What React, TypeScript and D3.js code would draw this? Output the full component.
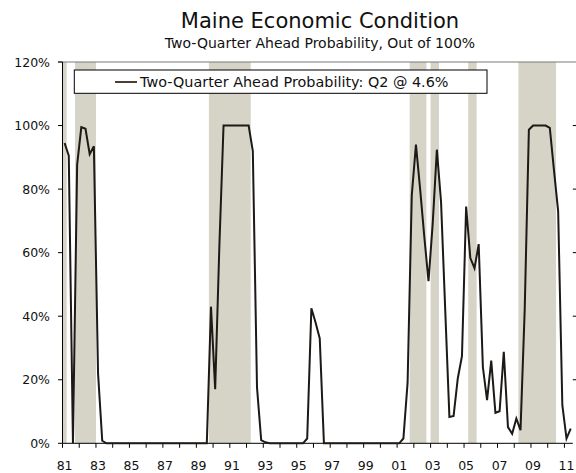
import React from "react";
import * as d3 from "d3";

// ---- data (quarterly, 1981Q1 .. 2011Q2), probability in % ----
const startYear = 1981;
const probability: number[] = [
  // 1981
  94.5, 90.5, 0, 87.7,
  // 1982
  99.5, 99, 91, 93.5,
  // 1983
  22, 0.8, 0, 0,
  // 1984
  0, 0, 0, 0,
  // 1985
  0, 0, 0, 0,
  // 1986
  0, 0, 0, 0,
  // 1987
  0, 0, 0, 0,
  // 1988
  0, 0, 0, 0,
  // 1989
  0, 0, 0, 43,
  // 1990
  17, 62, 100, 100,
  // 1991
  100, 100, 100, 100,
  // 1992
  100, 92, 17.6, 1,
  // 1993
  0.3, 0, 0, 0,
  // 1994
  0, 0, 0, 0,
  // 1995
  0, 0, 1.5, 42.5,
  // 1996
  38, 33, 0, 0,
  // 1997
  0, 0, 0, 0,
  // 1998
  0, 0, 0, 0,
  // 1999
  0, 0, 0, 0,
  // 2000
  0, 0, 0, 0,
  // 2001
  0, 1.5, 19, 78,
  // 2002
  94, 80, 65, 51,
  // 2003
  69, 92.4, 76, 42,
  // 2004
  8.3, 8.6, 20.4, 27.4,
  // 2005
  74.5, 58.3, 55.1, 62.7,
  // 2006
  24, 13.6, 26, 9.6,
  // 2007
  10.1, 28.8, 5.1, 3,
  // 2008
  7.8, 4.1, 42, 98.7,
  // 2009
  100, 100, 100, 100,
  // 2010
  99.3, 86, 73, 12,
  // 2011
  1.5, 4.6,
];

// recession shading periods (start, end) in fractional years
const recessionStart: number[] = [1981.0, 1981.75, 1989.75, 2001.75, 2003.0, 2005.25, 2008.25];
const recessionEnd: number[] = [1981.25, 1983.0, 1992.25, 2002.75, 2003.5, 2005.75, 2010.5];

const yTicks: number[] = [0, 20, 40, 60, 80, 100, 120];
const yRightTicks: number[] = [20, 40, 60, 80, 100];
const xTickYears: number[] = d3.range(1981, 2012);
const xLabelYears: number[] = [1981, 1983, 1985, 1987, 1989, 1991, 1993, 1995, 1997, 1999, 2001, 2003, 2005, 2007, 2009, 2011];

const title = "Maine Economic Condition";
const subtitle = "Two-Quarter Ahead Probability, Out of 100%";
const legendLabel = "Two-Quarter Ahead Probability: Q2 @ 4.6%";

const FONT = "'DejaVu Sans', Verdana, sans-serif";

export default function App() {
  const W = 576;
  const H = 473;
  const left = 62.5;
  const right = 572.8;
  const top = 62;
  const bottom = 443.3;

  const x = d3.scaleLinear().domain([1981, 2011.5]).range([left, right]);
  const y = d3.scaleLinear().domain([0, 120]).range([bottom, top]);

  const pts: [number, number][] = probability.map((v, i) => [startYear + (i + 0.5) / 4, v]);
  const line = d3
    .line<[number, number]>()
    .x((d) => x(d[0]))
    .y((d) => y(d[1]));

  return (
    <svg
      width={W}
      height={H}
      viewBox={`0 0 ${W} ${H}`}
      style={{ position: "absolute", left: 0, top: 0, background: "#fff" }}
      fontFamily={FONT}
    >
      <rect x={0} y={0} width={W} height={H} fill="#fff" />
      {/* recession bands */}
      {recessionStart.map((s, i) => (
        <rect
          key={"b" + i}
          x={x(s)}
          y={top}
          width={x(recessionEnd[i]) - x(s)}
          height={bottom - top}
          fill="#d6d3c7"
        />
      ))}

      {/* top border line */}
      <line x1={58} x2={576} y1={top} y2={top} stroke="#7a7a7a" strokeWidth={1.2} />

      {/* left axis */}
      <line x1={left} x2={left} y1={top} y2={bottom} stroke="#000" strokeWidth={1} />
      {yTicks.map((t) => (
        <g key={"yt" + t}>
          <line x1={left - 4.5} x2={left} y1={y(t)} y2={y(t)} stroke="#000" strokeWidth={1} />
          <text x={50} y={y(t)} dy="0.36em" textAnchor="end" fontSize={12.5} fill="#111">
            {t}%
          </text>
        </g>
      ))}
      {/* right ticks */}
      {yRightTicks.map((t) => (
        <line key={"yr" + t} x1={right} x2={576} y1={y(t)} y2={y(t)} stroke="#000" strokeWidth={1} />
      ))}

      {/* bottom axis */}
      <line x1={left} x2={right} y1={bottom} y2={bottom} stroke="#000" strokeWidth={1} />
      {xTickYears.map((yr) => (
        <line key={"xt" + yr} x1={x(yr)} x2={x(yr)} y1={bottom} y2={bottom + 4.5} stroke="#000" strokeWidth={1} />
      ))}
      {xLabelYears.map((yr) => (
        <text key={"xl" + yr} x={x(yr + 0.125)} y={470} textAnchor="middle" fontSize={12.5} fill="#111">
          {String(yr % 100).padStart(2, "0")}
        </text>
      ))}

      {/* data line */}
      <path d={line(pts) || ""} fill="none" stroke="#1c1916" strokeWidth={2} strokeLinejoin="miter" />

      {/* legend */}
      <rect x={74.3} y={70} width={412.7} height={23.3} fill="#fff" stroke="#000" strokeWidth={1} />
      <line x1={115} x2={137} y1={82} y2={82} stroke="#4a3f36" strokeWidth={2} />
      <text x={140} y={87} fontSize={14.4} fill="#111">
        {legendLabel}
      </text>

      {/* titles */}
      <text x={320} y={28.3} textAnchor="middle" fontSize={21} fill="#111">
        {title}
      </text>
      <text x={320} y={47.7} textAnchor="middle" fontSize={14} fill="#111">
        {subtitle}
      </text>
    </svg>
  );
}
